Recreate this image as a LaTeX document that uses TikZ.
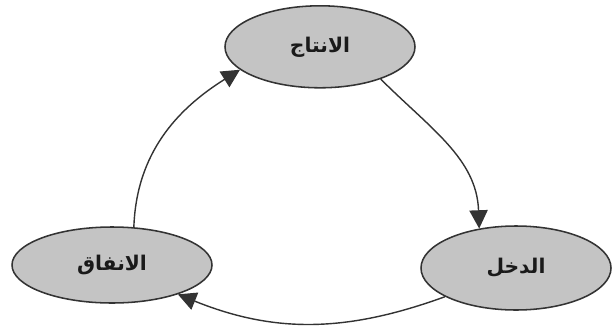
\documentclass[tikz,border=0pt]{standalone}
\usepackage{fontspec}
\newfontfamily\arabicfont[Script=Arabic]{DejaVu Sans}
\TeXXeTstate=1
\usetikzlibrary{shapes.geometric,arrows.meta}
\definecolor{CycleFill}{HTML}{C4C4C4}
\definecolor{CycleStroke}{HTML}{333333}
\definecolor{CycleText}{HTML}{1A1A1A}

\begin{document}
\begin{tikzpicture}[
  phase/.style={ellipse,draw=CycleStroke,fill=CycleFill,text=CycleText,line width=1.1pt,inner sep=0pt,font=\arabicfont\bfseries\Large},
  flow/.style={draw=CycleStroke,line width=1pt,-{Triangle[length=13pt,width=13pt]}}]
  \useasboundingbox (0,0) rectangle (15.3,8.3);
  \node[phase,minimum width=4.75cm,minimum height=2.05cm] (prod) at (8.0,7.13) {\beginR الانتاج\endR};
  \node[phase,minimum width=4.75cm,minimum height=2.1cm] (income) at (12.9,1.6) {\beginR الدخل\endR};
  \node[phase,minimum width=5.0cm,minimum height=1.9cm] (spend) at (2.8,1.675) {\beginR الانفاق\endR};

  \draw[flow] (prod.-28) to[out=-45,in=92] (income.133);
  \draw[flow] (income.202) to[out=200,in=-22] (spend.-24);
  \draw[flow] (spend.60) to[out=88,in=212] (prod.196);
\end{tikzpicture}
\end{document}
